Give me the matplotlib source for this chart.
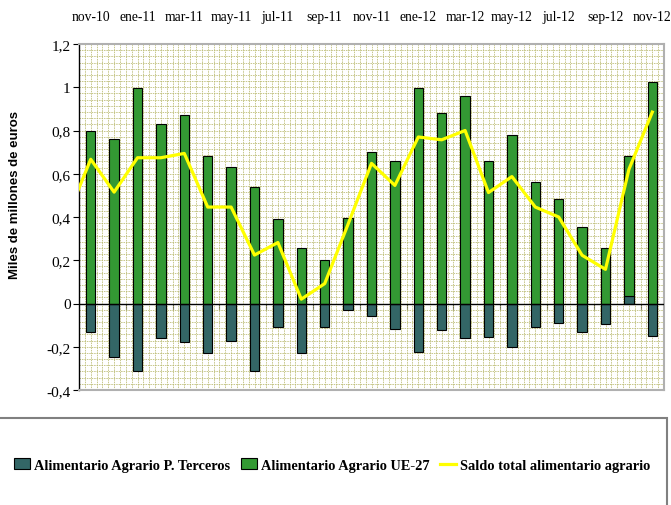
import matplotlib
matplotlib.use("Agg")
import matplotlib.pyplot as plt
from matplotlib.patches import Patch, Rectangle
from matplotlib.lines import Line2D
from matplotlib.ticker import MultipleLocator
import numpy as np

months = ["nov-10", "dic-10", "ene-11", "feb-11", "mar-11", "abr-11", "may-11",
          "jun-11", "jul-11", "ago-11", "sep-11", "oct-11", "nov-11", "dic-11",
          "ene-12", "feb-12", "mar-12", "abr-12", "may-12", "jun-12", "jul-12",
          "ago-12", "sep-12", "oct-12", "nov-12"]

ue27 = [0.80, 0.76, 0.995, 0.83, 0.87, 0.68, 0.63, 0.54, 0.39, 0.255, 0.20,
        0.395, 0.70, 0.66, 0.995, 0.88, 0.96, 0.66, 0.78, 0.56, 0.485, 0.355,
        0.255, 0.645, 1.025]
terceros = [-0.134, -0.247, -0.314, -0.159, -0.176, -0.231, -0.173, -0.31,
            -0.108, -0.231, -0.108, -0.028, -0.059, -0.118, -0.222, -0.124,
            -0.159, -0.154, -0.199, -0.11, -0.09, -0.134, -0.095, 0.035, -0.148]
# saldo starts one month earlier (oct-10), that point is clipped by the axis
saldo_months = ["oct-10"] + months
saldo = [0.40, 0.667, 0.515, 0.674, 0.674, 0.694, 0.446, 0.446, 0.224, 0.282,
         0.02, 0.092, 0.367, 0.648, 0.546, 0.77, 0.757, 0.80, 0.513, 0.587,
         0.446, 0.40, 0.223, 0.158, 0.62, 0.885]

yticks = [-0.4, -0.2, 0, 0.2, 0.4, 0.6, 0.8, 1.0, 1.2]
ytick_labels = ["-0,4", "-0,2", "0", "0,2", "0,4", "0,6", "0,8", "1", "1,2"]

c_ue = "#339933"
c_ter = "#336666"
c_saldo = "#ffff00"

fig = plt.figure(figsize=(6.71, 5.06), dpi=100)
ax = fig.add_axes([79 / 671, 1 - 391 / 506, 585 / 671, 346 / 506])

x = np.arange(len(months))
ter = np.array(terceros)
ax.bar(x, ter, width=0.4, color=c_ter, edgecolor="black", linewidth=0.8, zorder=3)
ax.bar(x, ue27, width=0.4, bottom=np.clip(ter, 0, None), color=c_ue,
       edgecolor="black", linewidth=0.8, zorder=3)
xs = np.arange(len(saldo_months)) - 1
ax.plot(xs, saldo, color=c_saldo, linewidth=2.3, zorder=5, clip_on=True)

ax.set_xlim(-0.5, len(months) - 0.5)
ax.set_ylim(-0.4, 1.2)

# pattern-like background grid
ax.xaxis.set_minor_locator(MultipleLocator(0.25))
ax.yaxis.set_minor_locator(MultipleLocator(0.2 / 7))
ax.grid(which="both", color="#b8b86c", linestyle=(0, (2, 1.2)), linewidth=0.55, zorder=0)
ax.tick_params(which="minor", length=0)

ax.set_yticks(yticks)
ax.set_yticklabels(ytick_labels, family="Liberation Serif", fontsize=11)
ax.tick_params(axis="y", which="major", direction="out", length=4, color="black", pad=2)

ax.xaxis.tick_top()
ax.set_xticks(x[::2])
ax.set_xticklabels(months[::2], family="Liberation Serif", fontsize=9.8)
ax.tick_params(axis="x", which="major", length=0, pad=15)

# zero line with category tick marks
ax.axhline(0, color="black", linewidth=1.0, zorder=4)
zero = ax.secondary_xaxis(0.25)
zero.set_xticks(np.arange(1.5, len(months) - 1, 2))
zero.tick_params(direction="out", length=4, color="#555555", labelbottom=False)
zero.spines["bottom"].set_visible(False)

for s in ["top", "right", "bottom"]:
    ax.spines[s].set_color("#b0b0b0")
    ax.spines[s].set_linewidth(1.5)
ax.spines["left"].set_color("black")
ax.spines["left"].set_linewidth(1.0)

fig.text(15 / 671, 1 - 195 / 506, "Miles de millones de euros", rotation=90,
         family="Liberation Sans", fontweight="bold", fontsize=9.5,
         ha="center", va="center")

# legend box
fig.patches.append(Rectangle((-0.01, -0.05), 667 / 671 + 0.01, 0.05 + 1 - 419 / 506,
                             transform=fig.transFigure, fill=False,
                             edgecolor="#808080", linewidth=1.5))
handles = [Patch(facecolor=c_ter, edgecolor="black", linewidth=0.8),
           Patch(facecolor=c_ue, edgecolor="black", linewidth=0.8),
           Line2D([], [], color=c_saldo, linewidth=2.3)]
labels = ["Alimentario Agrario P. Terceros", "Alimentario Agrario UE-27",
          "Saldo total alimentario agrario"]
fig.legend(handles, labels, loc="center", bbox_to_anchor=(0.495, 1 - 466 / 506),
           ncol=3, frameon=False, handlelength=1.1, handleheight=0.8,
           handletextpad=0.3, columnspacing=0.7, borderpad=0.1,
           prop={"family": "Liberation Serif", "weight": "bold", "size": 10.4})

fig.savefig("out.png", dpi=100)
